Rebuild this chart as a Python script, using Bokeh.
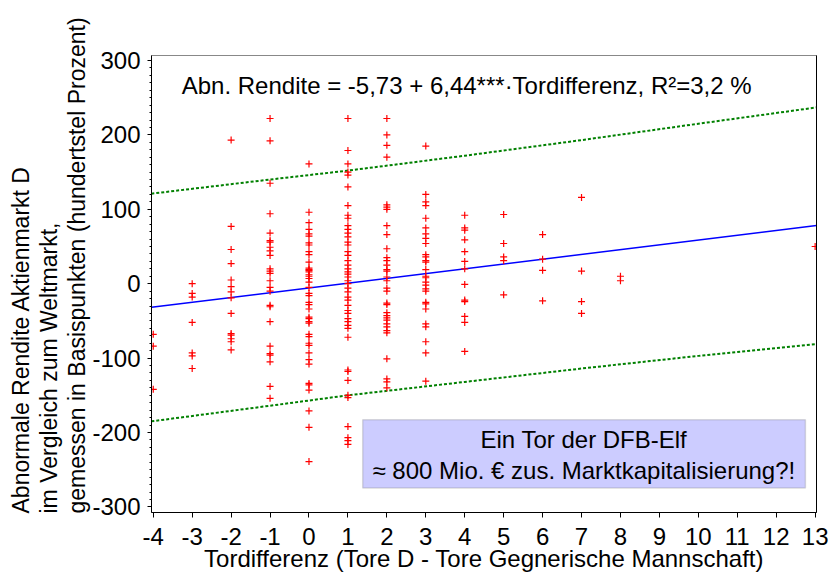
import numpy as np
from bokeh.plotting import figure
from bokeh.models import Range1d, FixedTicker, Label, BoxAnnotation, LinearAxis, Title
from bokeh.embed import file_html
from bokeh.resources import INLINE

# ---------------- data ----------------
goal_diffs = [-4, -3, -2, -1, 0, 1, 2, 3, 4, 5, 6, 7, 8, 13]

ret_m4 = [-68, -84, -142]
ret_m3 = [0, -13, -18, -52, -93, -97, -114]
ret_m2 = [193, 77, 46, 27, 5, -4, -11, -19, -40, -67, -69, -74, -78, -89]
ret_m1 = [222, 192, 135, 94, 68, 58, 56, 49, 44, 38, 20, 17, 14, 4, -5, -10,
          -29, -31, -51, -84, -94, -96, -105, -138, -154]
ret_0 = [161, 96, 82, 73, 67, 64, 55, 52, 43, 39, 29, 21, 19, 18, 16, 12, 10, 7, 2,
         -5, -13, -16, -25, -28, -34, -45, -47, -51, -53, -68, -71, -80, -83,
         -93, -102, -108, -134, -136, -143, -171, -193, -239]
ret_1 = [222, 179, 161, 150, 146, 130, 105, 92, 88, 78, 73, 68, 63, 56, 52, 43,
         38, 31, 25, 20, 16, 13, 9, 4, 0, -6, -11, -18, -22, -29, -36, -40, -47,
         -51, -56, -60, -72, -116, -118, -130, -150, -153, -192, -207, -211, -216]
ret_2 = [222, 200, 186, 170, 106, 103, 100, 78, 66, 47, 35, 31, 25, 19, 17, 9, 4,
         -6, -10, -26, -28, -39, -43, -46, -49, -54, -58, -63, -66, -101, -128,
         -132, -140]
ret_3 = [185, 120, 110, 105, 88, 75, 67, 61, 54, 39, 36, 31, 29, 19, 10, 8, 2,
         -2, -7, -10, -25, -27, -34, -54, -58, -78, -93, -131]
ret_4 = [92, 75, 72, 59, 43, 30, 20, -1, -22, -24, -44, -52, -91]
ret_5 = [93, 54, 36, 31, -15]
ret_6 = [66, 33, 18, -23]
ret_7 = [116, 17, -24, -40]
ret_8 = [10, 4]
ret_13 = [50]

returns_per_diff = [ret_m4, ret_m3, ret_m2, ret_m1, ret_0, ret_1, ret_2, ret_3,
                    ret_4, ret_5, ret_6, ret_7, ret_8, ret_13]

# regression line  y = a + b * x
fit_intercept = -5.73
fit_slope = 6.44

# prediction band
band_x = [-4.05, -1, 1, 4, 7, 10, 13.05]
band_upper = [121, 140, 152, 172, 193, 215, 237]
band_lower = [-185, -164, -150, -132, -114, -97, -81]

x_ticks = list(range(-4, 14))
x_tick_labels = [str(v) for v in x_ticks]
y_ticks = [-300, -200, -100, 0, 100, 200, 300]
y_tick_labels = ["-300", "-200", "-100", "0", "100", "200", "300"]

equation_text = "Abn. Rendite = -5,73 + 6,44***\u00b7Tordifferenz, R\u00b2=3,2 %"
box_line1 = "Ein Tor der DFB-Elf"
box_line2 = "\u2248 800 Mio. \u20ac zus. Marktkapitalisierung?!"
x_title = "Tordifferenz (Tore D - Tore Gegnerische Mannschaft)"
y_title_lines = ["Abnormale Rendite Aktienmarkt D",
                 "im Vergleich zum Weltmarkt,",
                 "gemessen in Basispunkten (hundertstel Prozent)"]

# ---------------- build ----------------
xs, ys = [], []
for gd, vals in zip(goal_diffs, returns_per_diff):
    xs.extend([gd] * len(vals))
    ys.extend(vals)

X0, X1 = -4.045, 13.035
Y0, Y1 = -307.5, 306.7
FONT = "Liberation Sans"

p = figure(width=839, height=574, x_range=Range1d(X0, X1), y_range=Range1d(Y0, Y1),
           output_backend="svg", toolbar_location=None, title=None,
           min_border_left=151, min_border_right=23, min_border_top=55,
           min_border_bottom=62)
p.xgrid.visible = False
p.ygrid.visible = False
p.outline_line_color = "#888888"
p.background_fill_color = "white"
p.border_fill_color = "white"

p.xaxis.ticker = FixedTicker(ticks=x_ticks)
p.xaxis.major_label_overrides = dict(zip(x_ticks, x_tick_labels))
p.xaxis.major_tick_out = 5
p.xaxis.major_tick_in = 0
p.xaxis.minor_tick_line_color = None
p.xaxis.major_label_standoff = 10
p.xaxis.axis_label = x_title
p.xaxis.axis_label_standoff = -3
p.xaxis.axis_label_text_font = FONT
p.xaxis.axis_label_text_font_size = "24px"
p.xaxis.axis_label_text_font_style = "normal"
p.xaxis.axis_label_text_color = "black"

p.yaxis.ticker = FixedTicker(ticks=y_ticks, minor_ticks=list(range(-300, 310, 10)))
p.yaxis.major_label_overrides = dict(zip(y_ticks, y_tick_labels))
p.yaxis.major_tick_out = 4
p.yaxis.major_tick_in = 0
p.yaxis.minor_tick_out = 2
p.yaxis.minor_tick_in = 0
p.yaxis.major_label_standoff = 7
p.yaxis.minor_tick_line_color = "black"

for ax in (p.xaxis, p.yaxis):
    ax.axis_line_color = "black"
    ax.major_tick_line_color = "black"
    ax.major_label_text_font = FONT
    ax.major_label_text_font_size = "24px"
    ax.major_label_text_color = "black"

right_axis = LinearAxis(ticker=FixedTicker(ticks=[]), major_label_text_font_size="0px",
                        major_tick_line_color=None, minor_tick_line_color=None,
                        axis_line_color="black")
p.add_layout(right_axis, "right")

# y-axis title: three lines, added from the axis outward
for txt in [y_title_lines[2], y_title_lines[1], y_title_lines[0]]:
    p.add_layout(Title(text=txt, align="left", vertical_align="bottom", standoff=0,
                       offset=-1, text_font=FONT, text_font_size="23px",
                       text_font_style="normal", text_color="black"), "left")

# lines
p.line(band_x, band_upper, line_color="#008000", line_width=2, line_dash="3 2")
p.line(band_x, band_lower, line_color="#008000", line_width=2, line_dash="3 2")
fit_x = np.array([X0, X1])
fit_y = fit_intercept + fit_slope * fit_x
p.line(fit_x, fit_y, line_color="#0000ff", line_width=1.5)

# points
p.scatter(xs, ys, marker="cross", size=7, line_color="#ff0000", line_width=1.2)

# annotation box
box = BoxAnnotation(left=1.38, right=12.75, bottom=-274.7, top=-182.8,
                    fill_color="#ccccff", fill_alpha=1.0,
                    line_color="#8c8c8c", line_width=1.5)
p.add_layout(box)

p.add_layout(Label(x=4.05, y=265.9, text=equation_text, text_align="center",
                   text_baseline="middle", text_font=FONT, text_font_size="24px",
                   text_color="black"))
p.add_layout(Label(x=7.06, y=-209.5, text=box_line1, text_align="center",
                   text_baseline="middle", text_font=FONT, text_font_size="24px",
                   text_color="black"))
p.add_layout(Label(x=7.06, y=-250.5, text=box_line2, text_align="center",
                   text_baseline="middle", text_font=FONT, text_font_size="24px",
                   text_color="black"))

open("out.html", "w", encoding="utf-8").write(file_html(p, INLINE))
